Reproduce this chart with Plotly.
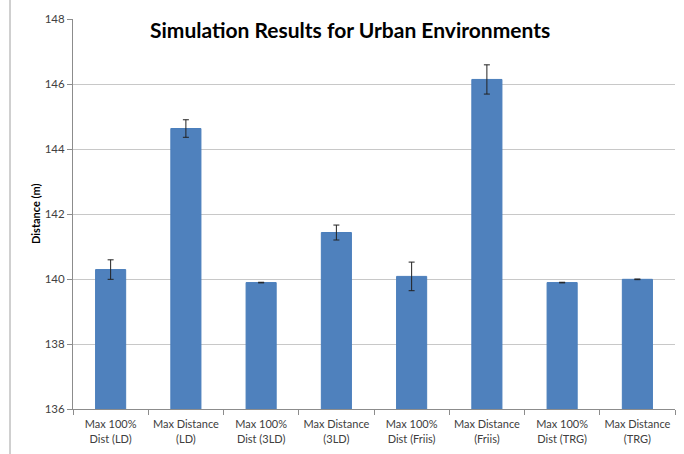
import plotly.graph_objects as go

categories = [
    "Max 100%<br>Dist (LD)", "Max Distance<br>(LD)",
    "Max 100%<br>Dist (3LD)", "Max Distance<br>(3LD)",
    "Max 100%<br>Dist (Friis)", "Max Distance<br>(Friis)",
    "Max 100%<br>Dist (TRG)", "Max Distance<br>(TRG)",
]
values = [140.29, 144.63, 139.89, 141.43, 140.08, 146.14, 139.89, 139.99]
errors = [0.30, 0.27, 0.01, 0.23, 0.44, 0.45, 0.01, 0.01]
y_ticks = [136, 138, 140, 142, 144, 146, 148]

FONT = "Lato, 'Open Sans', sans-serif"
W, H = 684, 454
L, R, T, B = 73, 9, 19, 45
pw = W - L - R

fig = go.Figure(go.Bar(
    x=categories, y=values,
    width=0.4,
    marker=dict(color="#4F81BD", line=dict(color="#4A7EBB", width=1)),
    error_y=dict(type="data", array=errors, visible=True,
                 color="#222222", thickness=1, width=3),
))

fig.update_layout(
    width=W, height=H,
    margin=dict(l=L, r=R, t=T, b=B, autoexpand=False),
    paper_bgcolor="white", plot_bgcolor="white",
    showlegend=False,
    font=dict(family=FONT, size=11, color="#404040"),
    xaxis=dict(
        showline=True, linecolor="#8c8c8c", linewidth=1,
        ticks="outside", ticklen=5, tickcolor="#8c8c8c",
        tickson="boundaries", showgrid=False, tickangle=0,
        automargin=False, ticklabelstandoff=5,
        tickfont=dict(family=FONT, size=11, color="#404040"),
    ),
    yaxis=dict(
        range=[136, 148], tickvals=y_ticks,
        showline=True, linecolor="#8c8c8c", linewidth=1,
        ticks="outside", ticklen=5, tickcolor="#8c8c8c",
        showgrid=True, gridcolor="#c8c8c8", gridwidth=1,
        zeroline=False, automargin=False,
        tickfont=dict(family=FONT, size=11.5, color="#404040"),
    ),
    annotations=[
        dict(text="<b>Simulation Results for Urban Environments</b>",
             xref="paper", yref="paper",
             x=(349.5 - L) / pw, y=1 - (29 - T) / (H - T - B),
             xanchor="center", yanchor="middle", showarrow=False,
             font=dict(family=FONT, size=21, color="#000000")),
        dict(text="<b>Distance (m)</b>", textangle=-90,
             xref="paper", yref="paper",
             x=(35 - L) / pw, y=0.5,
             xanchor="center", yanchor="middle", showarrow=False,
             font=dict(family=FONT, size=11, color="#000000")),
    ],
    shapes=[
        dict(type="line", xref="paper", yref="paper",
             x0=(10 - L) / pw, x1=(10 - L) / pw,
             y0=-B / (H - T - B), y1=1 + T / (H - T - B),
             line=dict(color="#a0a0a0", width=1)),
    ],
)

fig.write_html("out.html", config={"displayModeBar": False},
               post_script="document.body.style.margin='0px';document.body.style.overflow='hidden';")
